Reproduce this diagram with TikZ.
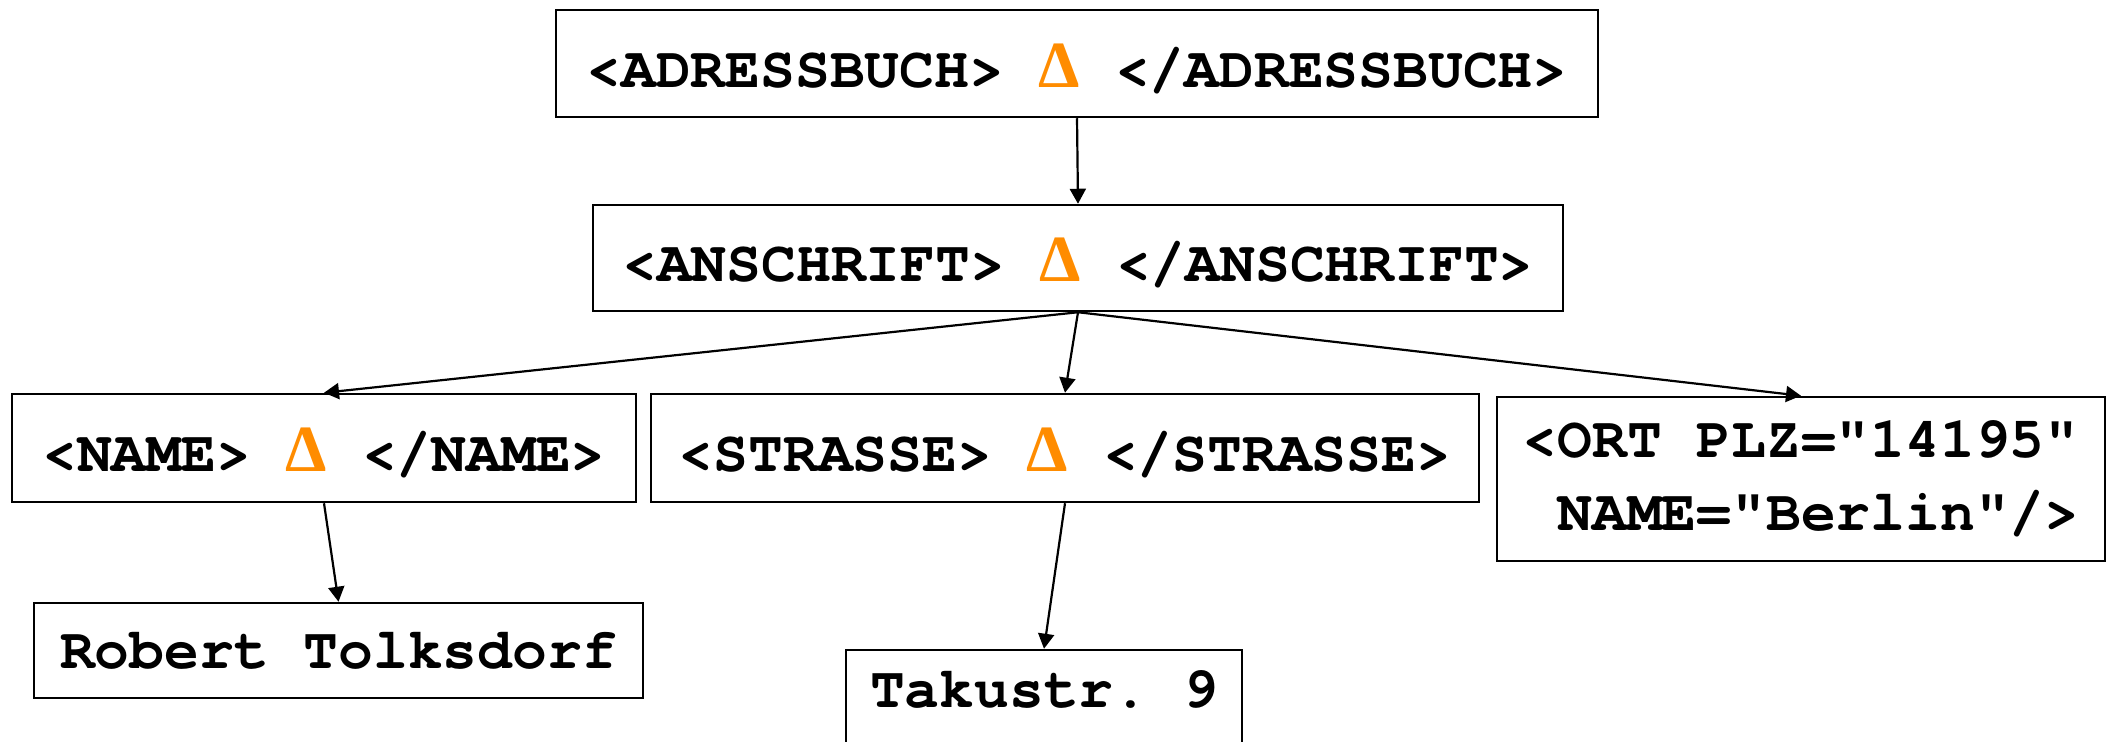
\documentclass[tikz,border=0pt]{standalone}
\usepackage{fontspec}
\newfontfamily\xmlfont{texgyrecursor}[Extension=.otf,UprightFont=*-regular,BoldFont=*-bold]
\newfontfamily\trifont{Liberation Serif}
\usetikzlibrary{arrows.meta}
\definecolor{triorange}{RGB}{255,140,0}
\newcommand{\trimark}{{\trifont\fontsize{33}{34}\selectfont\color{triorange}Δ}}
\begin{document}
\begin{tikzpicture}[x=0.5pt,y=-0.5pt,
  box/.style={draw,line width=1.25pt,inner sep=0pt,align=center,
    font=\xmlfont\bfseries\fontsize{29}{36.5}\selectfont\frenchspacing},
  arr/.style={line width=1.1pt,-{Triangle[length=7.5pt,width=8pt]}}]
\useasboundingbox (0,0) rectangle (2112,742);
\node[box,minimum width=521pt,minimum height=53.5pt,text height=24.5pt,text depth=0pt] (adr) at (1077,63.5) {<ADRESSBUCH> \trimark{} </ADRESSBUCH>};
\node[box,minimum width=485pt,minimum height=53pt,text height=24pt,text depth=0pt] (ans) at (1078,258) {<ANSCHRIFT> \trimark{} </ANSCHRIFT>};
\node[box,minimum width=312pt,minimum height=54pt,text height=24pt,text depth=0pt] (name) at (324,448) {<NAME> \trimark{} </NAME>};
\node[box,minimum width=414pt,minimum height=54pt,text height=24pt,text depth=0pt] (str) at (1065,448) {<STRASSE> \trimark{} </STRASSE>};
\node[box,align=left,minimum width=304pt,minimum height=82pt] (ort) at (1801,479) {<ORT PLZ="14195"\\~NAME="Berlin"/>};
\node[box,minimum width=304.5pt,minimum height=47.5pt,text height=17.5pt,text depth=0pt] (rob) at (338.5,650.5) {Robert Tolksdorf};
\node[box,minimum width=198pt,minimum height=47.5pt,text height=9.5pt,text depth=0pt] (tak) at (1044,697.5) {Takustr. 9};
\draw[arr] (adr.south) -- (ans.north);
\draw[arr] (ans.south) -- (name.north);
\draw[arr] (ans.south) -- (str.north);
\draw[arr] (ans.south) -- (ort.north);
\draw[arr] (name.south) -- (rob.north);
\draw[arr] (str.south) -- (tak.north);
\end{tikzpicture}
\end{document}
